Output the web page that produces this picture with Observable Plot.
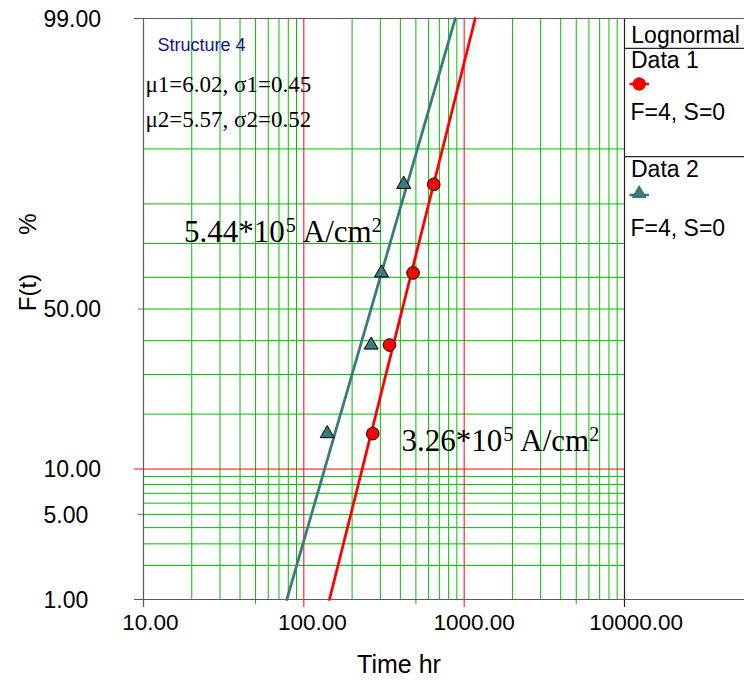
<!DOCTYPE html>
<html><head><meta charset="utf-8">
<script src="https://cdn.jsdelivr.net/npm/d3@7"></script>
<script src="https://cdn.jsdelivr.net/npm/@observablehq/plot@0.6"></script>
<style>
html,body{margin:0;padding:0;background:#fff;}
svg{display:block;}
</style></head><body><div id="chart"></div>
<script>
// ---------- data ----------
const medianRanks = [15.91, 38.64, 61.36, 84.09];      // F(t) %, both series
const data1Times = [269, 342, 480, 646];                // Data 1 (red circles), hr
const data2Times = [140, 263, 305, 420];                // Data 2 (teal triangles), hr
const fitPercents = [1, 99];                            // fitted line end points, %
const fit1Times = [144.5, 1172];                        // Data 1 fit line, hr
const fit2Times = [78.3, 880];                          // Data 2 fit line, hr
const paramLines = ["\u03bc1=6.02, \u03c31=0.45", "\u03bc2=5.57, \u03c32=0.52"];
const seriesNames = ["Data 1", "Data 2"];
const seriesInfo = ["F=4, S=0", "F=4, S=0"];
const yTickValues = [1, 5, 10, 50, 99];
const yGridMinor = [2, 3, 4, 6, 7, 8, 9, 20, 30, 40, 60, 70, 80, 90];
const yGridMid = [5, 50];
const yGridRed = [10];
const yBorders = [1, 99];
const xTickValues = [10, 100, 1000, 10000];
const xGridMinor = [20, 30, 40, 60, 70, 80, 90, 200, 300, 400, 600, 700, 800, 900, 2000, 3000, 4000, 6000, 7000, 8000, 9000];
const xGridMid = [50, 500, 5000];
const xGridRed = [100, 1000];

// ---------- inverse normal (probit) for the probability axis ----------
function probit(p){
  const a=[-3.969683028665376e+01,2.209460984245205e+02,-2.759285104469687e+02,1.383577518672690e+02,-3.066479806614716e+01,2.506628277459239e+00];
  const b=[-5.447609879822406e+01,1.615858368580409e+02,-1.556989798598866e+02,6.680131188771972e+01,-1.328068155833025e+01];
  const c=[-7.784894002430293e-03,-3.223964580411365e-01,-2.400758277161838e+00,-2.549732539343734e+00,4.374664141464968e+00,2.938163982698783e+00];
  const d=[7.784695709041462e-03,3.224671290700398e-01,2.445134137142996e+00,3.754408661907416e+00];
  const pl=0.02425, ph=1-pl; let q,r;
  if(p<pl){q=Math.sqrt(-2*Math.log(p));return (((((c[0]*q+c[1])*q+c[2])*q+c[3])*q+c[4])*q+c[5])/((((d[0]*q+d[1])*q+d[2])*q+d[3])*q+1);}
  if(p<=ph){q=p-0.5;r=q*q;return (((((a[0]*r+a[1])*r+a[2])*r+a[3])*r+a[4])*r+a[5])*q/(((((b[0]*r+b[1])*r+b[2])*r+b[3])*r+b[4])*r+1);}
  q=Math.sqrt(-2*Math.log(1-p));return -(((((c[0]*q+c[1])*q+c[2])*q+c[3])*q+c[4])*q+c[5])/((((d[0]*q+d[1])*q+d[2])*q+d[3])*q+1);
}
const Z = pct => probit(pct/100);

const pts1 = data1Times.map((t,i)=>({t, F: medianRanks[i]}));
const pts2 = data2Times.map((t,i)=>({t, F: medianRanks[i]}));
const fit1 = fit1Times.map((t,i)=>({t, F: fitPercents[i]}));
const fit2 = fit2Times.map((t,i)=>({t, F: fitPercents[i]}));

const W=744, H=687, ML=143, MR=120, MT=18, MB=88;
const green="#00c000", teal="#3b7b7b", axisGray="#5a5a5a";
const sans="'Liberation Sans', Arial, sans-serif", serif="'Liberation Serif', 'Times New Roman', serif";

// x tick labels: each label is centred a little right of its tick, more for longer labels
const xLabelMarks = xTickValues.map(v => {
  const s = v.toFixed(2);
  return Plot.text([v], {x: d=>d, text: d=>d.toFixed(2), frameAnchor: "bottom", textAnchor: "middle",
    dx: 1.55 * s.length - 0.8, dy: 30, fontSize: 22.5, fill: "#000"});
});

const svg = Plot.plot({
  width: W, height: H,
  marginLeft: ML, marginRight: MR, marginTop: MT, marginBottom: MB,
  x: {type: "log", domain: [10, 10000], axis: null},
  y: {domain: [Z(1), Z(99)], axis: null},
  style: {fontFamily: sans, background: "#fff", color: "#000"},
  marks: [
    Plot.ruleX(xGridMinor, {x: d=>d, stroke: green, strokeWidth: 1}),
    Plot.ruleX(xGridMid, {x: d=>d, stroke: green, strokeWidth: 1, insetBottom: -5}),
    Plot.ruleY(yGridMinor, {y: d=>Z(d), stroke: green, strokeWidth: 1}),
    Plot.ruleY(yGridMid, {y: d=>Z(d), stroke: green, strokeWidth: 1, insetLeft: -5}),
    Plot.ruleX(xGridRed, {x: d=>d, stroke: "#ff0000", strokeWidth: 1, insetBottom: -8}),
    Plot.ruleY(yGridRed, {y: d=>Z(d), stroke: "#ff0000", strokeWidth: 1, insetLeft: -9}),
    Plot.ruleX([10], {x: d=>d, stroke: axisGray, strokeWidth: 1.2, insetBottom: -8}),
    Plot.ruleX([10000], {x: d=>d, stroke: "#222", strokeWidth: 1.2, insetBottom: -8}),
    Plot.ruleY(yBorders, {y: d=>Z(d), stroke: axisGray, strokeWidth: 1.2, insetLeft: -9, insetRight: -MR}),
    // fitted lines
    Plot.line(fit1, {x: "t", y: d=>Z(d.F), stroke: "#ff0000", strokeWidth: 2.8}),
    Plot.line(fit2, {x: "t", y: d=>Z(d.F), stroke: teal, strokeWidth: 2.8}),
    // data points
    Plot.dot(pts1, {x: "t", y: d=>Z(d.F), r: 6.3, fill: "#ff0000", stroke: "#000", strokeWidth: 1}),
    Plot.dot(pts2, {x: "t", y: d=>Z(d.F), r: 5.2, symbol: "triangle", fill: teal, stroke: "#000", strokeWidth: 1}),
    // y tick labels (left-aligned in the margin)
    Plot.text(yTickValues, {y: d=>Z(d), text: d=>d.toFixed(2), frameAnchor: "left", textAnchor: "start", dx: -100, dy: 1, fontSize: 23, fill: "#000"}),
    ...xLabelMarks,
    // axis title
    Plot.text(["Time hr"], {frameAnchor: "bottom", text: d=>d, dx: 15, dy: 73, fontSize: 25, fill: "#000"}),
    // in-plot notes
    Plot.text(["Structure 4"], {frameAnchor: "top-left", text: d=>d, textAnchor: "start", lineAnchor: "bottom", dx: 14, dy: 32, fontSize: 18, fill: "#14148c"}),
    Plot.text([paramLines[0]], {frameAnchor: "top-left", text: d=>d, textAnchor: "start", lineAnchor: "bottom", dx: 2, dy: 73.7, fontSize: 23, fontFamily: serif, fill: "#000"}),
    Plot.text([paramLines[1]], {frameAnchor: "top-left", text: d=>d, textAnchor: "start", lineAnchor: "bottom", dx: 2, dy: 108.7, fontSize: 23, fontFamily: serif, fill: "#000"})
  ]
});

const s = d3.select(svg);
// rotated y-axis title pieces
const rot = (y, txt) => s.append("text").attr("transform", `translate(36,${y}) rotate(-90)`)
  .attr("text-anchor", "middle").attr("font-family", sans).attr("font-size", 24).attr("fill", "#000").text(txt);
rot(292.5, "F(t)");
rot(224, "%");

// current-density annotations with superscripts
function annot(x, y, mant){
  const t = s.append("text").attr("x", x).attr("y", y).attr("text-anchor", "start")
    .attr("font-family", serif).attr("font-size", 31).attr("fill", "#000");
  t.append("tspan").text(mant + "*10");
  t.append("tspan").attr("font-size", 20).attr("dx", 1).attr("dy", -10).text("5");
  t.append("tspan").attr("dx", 7).attr("dy", 10).text("A/cm");
  t.append("tspan").attr("font-size", 20).attr("dy", -10).text("2");
}
annot(184, 241.7, "5.44");
annot(401.5, 451, "3.26");

// legend panel
const R = W - MR;
const lg = s.append("g").attr("text-anchor", "start");
lg.append("line").attr("x1", R).attr("x2", W).attr("y1", 48.3).attr("y2", 48.3).attr("stroke", "#222").attr("stroke-width", 1.2);
lg.append("line").attr("x1", R).attr("x2", W).attr("y1", 156.7).attr("y2", 156.7).attr("stroke", "#222").attr("stroke-width", 1.2);
const lt = (x, y, txt) => lg.append("text").attr("x", x).attr("y", y).attr("text-anchor", "start")
  .attr("font-family", sans).attr("font-size", 23).attr("fill", "#000").text(txt);
lt(631.3, 42.7, "Lognormal");
lt(631, 68.3, seriesNames[0]);
lt(630.5, 120, seriesInfo[0]);
lt(631, 176.7, seriesNames[1]);
lt(630.5, 236, seriesInfo[1]);
lg.append("line").attr("x1", 629.5).attr("x2", 649).attr("y1", 84).attr("y2", 84).attr("stroke", "#ff0000").attr("stroke-width", 2.5);
lg.append("circle").attr("cx", 639.2).attr("cy", 84).attr("r", 6.3).attr("fill", "#ff0000").attr("stroke", "#c00000").attr("stroke-width", 0.8);
lg.append("line").attr("x1", 629.5).attr("x2", 649).attr("y1", 195).attr("y2", 195).attr("stroke", teal).attr("stroke-width", 2.5);
lg.append("path").attr("transform", "translate(639.2,193.5)").attr("d", d3.symbol(d3.symbolTriangle, 80)()).attr("fill", teal).attr("stroke", "#2a5a5a").attr("stroke-width", 0.8);

document.getElementById("chart").appendChild(svg);
</script>
</body></html>
